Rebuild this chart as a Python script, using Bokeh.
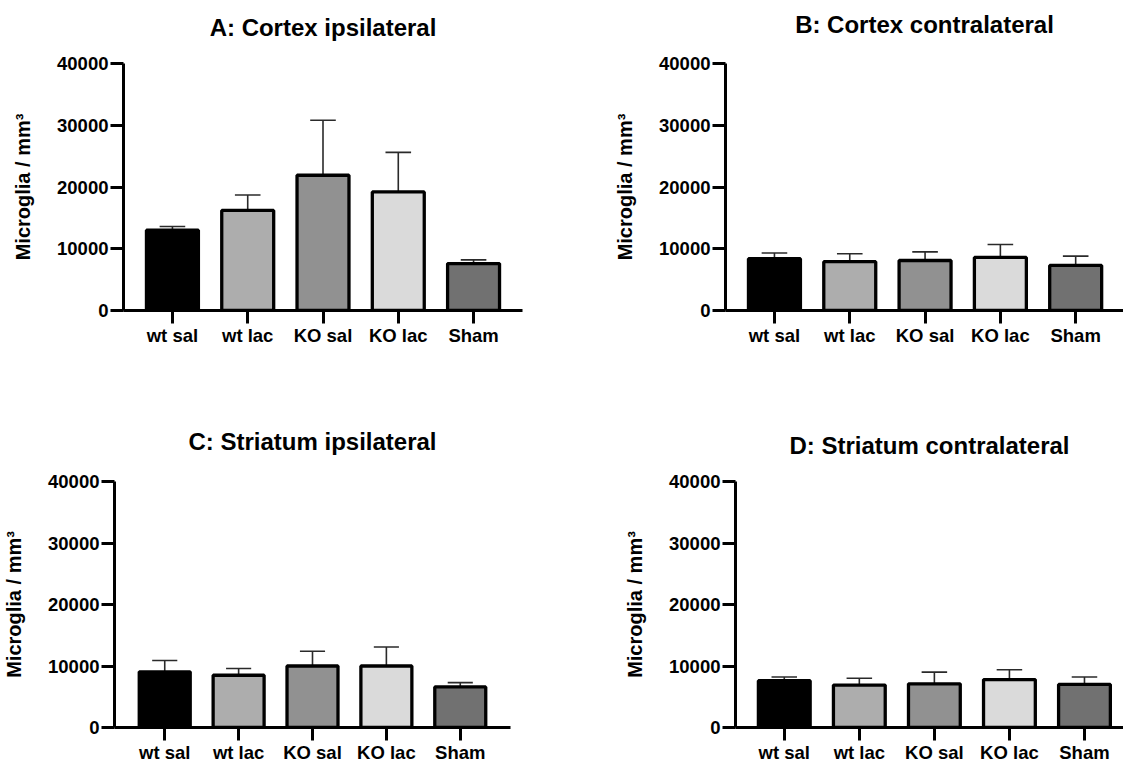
from bokeh.plotting import figure
from bokeh.layouts import column, row
from bokeh.models import Range1d, FixedTicker, ColumnDataSource, Title
from bokeh.embed import file_html
from bokeh.resources import INLINE

groups = ["wt sal", "wt lac", "KO sal", "KO lac", "Sham"]
bar_colors = ["#000000", "#adadad", "#919191", "#dadada", "#717171"]
y_ticks = [0, 10000, 20000, 30000, 40000]
y_label = "Microglia / mm³"

title_a = "A: Cortex ipsilateral"
mean_a = [13000, 16200, 21900, 19200, 7600]
err_a = [600, 2500, 8900, 6400, 600]

title_b = "B: Cortex contralateral"
mean_b = [8400, 7900, 8100, 8600, 7300]
err_b = [900, 1300, 1400, 2100, 1500]

title_c = "C: Striatum ipsilateral"
mean_c = [9050, 8500, 10000, 10000, 6600]
err_c = [1850, 1100, 2400, 3100, 700]

title_d = "D: Striatum contralateral"
mean_d = [7600, 6900, 7100, 7800, 7000]
err_d = [600, 1100, 1900, 1600, 1200]

FONT = "Liberation Sans"


def panel(title, means, errs, width, height, left, right, top, bottom,
          x_start, x_end, title_gap):
    xs = list(range(len(groups)))
    upper = [m + e for m, e in zip(means, errs)]
    src = ColumnDataSource(dict(
        x=xs, top=means, upper=upper, color=bar_colors,
        cl=[x - 0.17 for x in xs], cr=[x + 0.17 for x in xs]))
    p = figure(width=width, height=height, output_backend="svg",
               toolbar_location=None,
               x_range=Range1d(x_start, x_end), y_range=Range1d(0, 40000),
               min_border_left=left, min_border_right=right,
               min_border_top=top, min_border_bottom=bottom)
    p.outline_line_color = None
    p.xgrid.grid_line_color = None
    p.ygrid.grid_line_color = None
    p.background_fill_color = "white"
    p.border_fill_color = "white"

    # white (invisible on white) spacer next to the frame, title outside it
    p.add_layout(Title(text=".", text_font_size="10px", text_color="white",
                       standoff=title_gap), "above")
    p.add_layout(Title(text=title, align="center", text_font=FONT,
                       text_font_size="24px", text_font_style="bold",
                       text_color="black", standoff=0), "above")

    p.segment(x0="x", y0="top", x1="x", y1="upper", source=src,
              line_color="#2a2a2a", line_width=1.6)
    p.segment(x0="cl", y0="upper", x1="cr", y1="upper", source=src,
              line_color="#2a2a2a", line_width=1.6)
    p.vbar(x="x", top="top", bottom=0, width=0.69, source=src,
           fill_color="color", line_color="black", line_width=3.3)

    for ax in (p.xaxis[0], p.yaxis[0]):
        ax.axis_line_width = 3
        ax.axis_line_color = "black"
        ax.major_tick_line_width = 3
        ax.major_tick_line_color = "black"
        ax.major_tick_out = 13
        ax.major_tick_in = 0
        ax.minor_tick_line_color = None
        ax.major_label_text_font = FONT
        ax.major_label_text_font_size = "18.5px"
        ax.major_label_text_font_style = "bold"
        ax.major_label_text_color = "black"
        ax.major_label_standoff = 2

    p.xaxis.ticker = FixedTicker(ticks=xs)
    p.xaxis.major_label_overrides = {i: g for i, g in enumerate(groups)}
    p.xaxis.major_label_standoff = 1

    p.yaxis.ticker = FixedTicker(ticks=y_ticks)
    p.yaxis.axis_label = y_label
    p.yaxis.axis_label_text_font = FONT
    p.yaxis.axis_label_text_font_size = "20px"
    p.yaxis.axis_label_text_font_style = "bold"
    p.yaxis.axis_label_text_color = "black"
    p.yaxis.axis_label_standoff = 20
    return p


pa = panel(title_a, mean_a, err_a, 560, 380, 123, 38, 61, 70, -0.65, 4.65, 13)
pb = panel(title_b, mean_b, err_b, 563, 380, 165, 0, 63, 67, -0.65, 4.635, 16)
pc = panel(title_c, mean_c, err_c, 560, 385, 110, 50, 101, 34, -0.68, 4.68, 17)
pd = panel(title_d, mean_d, err_d, 563, 385, 175, 0, 97, 38, -0.65, 4.52, 13)

layout = column(row(pa, pb), row(pc, pd))
open("out.html", "w").write(file_html(layout, INLINE))
